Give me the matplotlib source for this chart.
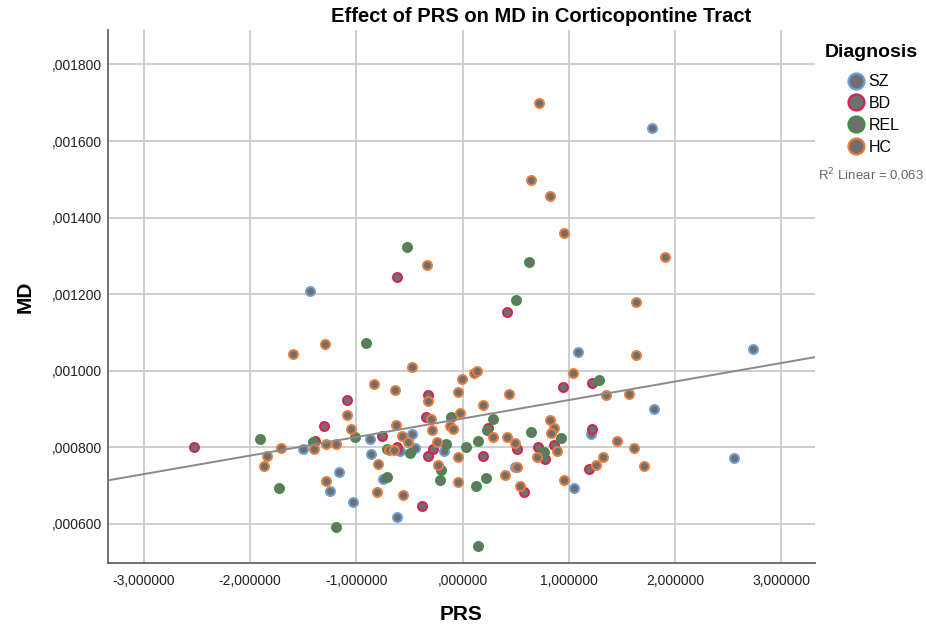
import matplotlib
matplotlib.use("Agg")
import matplotlib.pyplot as plt
from matplotlib.lines import Line2D
from matplotlib.ticker import FuncFormatter
import numpy as np

plt.rcParams['font.family'] = ['Liberation Sans', 'DejaVu Sans']

# ---- data (PRS, MD) per diagnosis group ----
sz_prs = [1.780, -1.434, 1.087, 2.736, 1.806, 2.560, -0.478, -0.871, -1.505, -0.588,
          -0.447, -0.173, -0.864, -1.160, -1.248, -0.746, -1.028, -0.619, 1.212, 1.052, 0.496]
sz_md = [0.001633, 0.001209, 0.001048, 0.001058, 0.000900, 0.000771, 0.000834, 0.000822, 0.000797, 0.000791,
         0.000798, 0.000791, 0.000782, 0.000736, 0.000685, 0.000717, 0.000657, 0.000617, 0.000834, 0.000695, 0.000749]

bd_prs = [-0.619, 0.414, -0.321, -1.085, -0.343, -1.304, -0.761, -0.619, -0.274, -0.324,
          -2.533, -0.384, -1.389, 0.235, 0.197, 0.948, 1.219, 1.224, 0.512, 0.706,
          0.866, 0.779, 1.187, 0.583]
bd_md = [0.001244, 0.001154, 0.000938, 0.000923, 0.000878, 0.000855, 0.000830, 0.000800, 0.000796, 0.000777,
         0.000801, 0.000648, 0.000816, 0.000850, 0.000778, 0.000958, 0.000967, 0.000849, 0.000796, 0.000800,
         0.000807, 0.000769, 0.000743, 0.000684]

rel_prs = [-0.519, 0.628, 0.502, -0.913, -1.012, -0.110, -1.905, -1.411, -0.713, -0.494,
           -0.157, -0.205, -0.211, -0.713, -1.726, -1.194, 0.142, 0.031, 0.144, 0.291,
           0.229, 0.644, 0.926, 0.769, 0.220, 0.125, 1.285]
rel_md = [0.001324, 0.001285, 0.001185, 0.001072, 0.000828, 0.000880, 0.000823, 0.000813, 0.000797, 0.000784,
          0.000810, 0.000740, 0.000715, 0.000722, 0.000695, 0.000591, 0.000542, 0.000802, 0.000817, 0.000874,
          0.000845, 0.000841, 0.000825, 0.000789, 0.000719, 0.000698, 0.000976]

hc_prs = [0.719, 0.647, 0.819, 0.960, 1.910, -0.336, 1.636, 1.633, -1.594, -1.292,
          -0.478, -0.830, -0.632, -0.327, -0.007, 0.109, 0.135, -0.039, 0.188, 0.433,
          1.040, 1.353, 1.567, -1.090, -1.047, -0.626, -0.296, -0.284, -0.020, -0.123,
          -0.086, -0.572, -0.516, -0.242, -1.399, -1.288, -1.194, -0.689, -0.642, -0.041,
          -0.795, -0.227, -0.044, -1.286, -0.802, -0.563, -1.707, -1.844, -1.873, 0.826,
          0.857, 0.835, 1.454, 1.611, 0.291, 0.418, 0.496, 0.894, 0.700, 1.322,
          1.259, 1.705, 0.512, 0.404, 0.958, 0.543]
hc_md = [0.001700, 0.001498, 0.001456, 0.001361, 0.001297, 0.001276, 0.001179, 0.001040, 0.001045, 0.001069,
         0.001010, 0.000965, 0.000950, 0.000920, 0.000978, 0.000995, 0.001000, 0.000944, 0.000910, 0.000939,
         0.000993, 0.000937, 0.000939, 0.000884, 0.000849, 0.000859, 0.000873, 0.000845, 0.000890, 0.000856,
         0.000849, 0.000830, 0.000813, 0.000814, 0.000797, 0.000809, 0.000809, 0.000793, 0.000793, 0.000775,
         0.000756, 0.000755, 0.000710, 0.000713, 0.000684, 0.000676, 0.000799, 0.000777, 0.000751, 0.000871,
         0.000850, 0.000837, 0.000816, 0.000799, 0.000827, 0.000827, 0.000812, 0.000790, 0.000774, 0.000775,
         0.000754, 0.000751, 0.000749, 0.000728, 0.000715, 0.000699]

groups = ['SZ', 'BD', 'REL', 'HC']
group_x = [sz_prs, bd_prs, rel_prs, hc_prs]
group_y = [sz_md, bd_md, rel_md, hc_md]
edge_colors = ['#6b9fdc', '#d5224f', '#3f8f43', '#ea7d3c']
fill_color = '#6f6f6f'

x_ticks = [-3, -2, -1, 0, 1, 2, 3]
y_ticks = [0.0006, 0.0008, 0.0010, 0.0012, 0.0014, 0.0016, 0.0018]
r2_linear = 0.063

# ---- figure ----
fig = plt.figure(figsize=(9.26, 6.26), dpi=100)
ax = fig.add_axes([108/926, 1-563/626, (815-108)/926, (563-30)/626])

for name, xs, ys, ec in zip(groups, group_x, group_y, edge_colors):
    ax.scatter(xs, ys, s=42, facecolor=fill_color, edgecolor=ec, linewidths=1.4, zorder=3)

# linear fit through all points
all_x = np.concatenate([np.asarray(v) for v in group_x])
all_y = np.concatenate([np.asarray(v) for v in group_y])
slope, intercept = np.polyfit(all_x, all_y, 1)
xlim = (-3.34, 3.32)
xl = np.array(xlim)
ax.plot(xl, intercept + slope * xl, color='#8a8a8a', lw=1.4, zorder=4)

ax.set_xlim(*xlim)
ax.set_ylim(0.000498, 0.00189)
ax.set_xticks(x_ticks)
ax.set_yticks(y_ticks)


def fmt(v, pos=None):
    s = f"{v:.6f}".replace('.', ',')
    if s.startswith('0,'):
        s = s[1:]
    elif s.startswith('-0,'):
        s = '-' + s[2:]
    return s


ax.xaxis.set_major_formatter(FuncFormatter(fmt))
ax.yaxis.set_major_formatter(FuncFormatter(fmt))
ax.tick_params(axis='both', length=0, labelsize=10, colors='#222222')
ax.tick_params(axis='x', pad=8)
ax.tick_params(axis='y', pad=4.5)
ax.grid(True, color='#cccccc', lw=1.3, zorder=0)
ax.set_axisbelow(True)
for side in ['top', 'right']:
    ax.spines[side].set_visible(False)
for side in ['left', 'bottom']:
    ax.spines[side].set_color('#666666')
    ax.spines[side].set_linewidth(1.3)

ax.set_xlabel('PRS', fontsize=15, fontweight='bold', labelpad=12)
ax.set_ylabel('MD', fontsize=15, fontweight='bold', labelpad=12)
fig.text(541/926, 1-16/626, 'Effect of PRS on MD in Corticopontine Tract',
         ha='center', va='center', fontsize=14.5, fontweight='bold')

handles = [Line2D([], [], ls='none', marker='o', markersize=11.5, markerfacecolor=fill_color,
                  markeredgecolor=ec, markeredgewidth=1.6) for ec in edge_colors]
leg = fig.legend(handles, groups, title='Diagnosis', loc='upper center',
                 bbox_to_anchor=(871/926, 1-33/626), frameon=False,
                 fontsize=11.5, title_fontproperties={'weight': 'bold', 'size': 14},
                 handletextpad=0.0, labelspacing=0.42, borderpad=0.2, handlelength=1.6)
leg._legend_box.sep = 9.5

fig.text(871/926, 1-175/626, 'R$^2$ Linear = ' + f"{r2_linear:.3f}".replace('.', ','),
         ha='center', va='center', fontsize=9.5, color='#666666')

fig.savefig('out.png', dpi=100)
